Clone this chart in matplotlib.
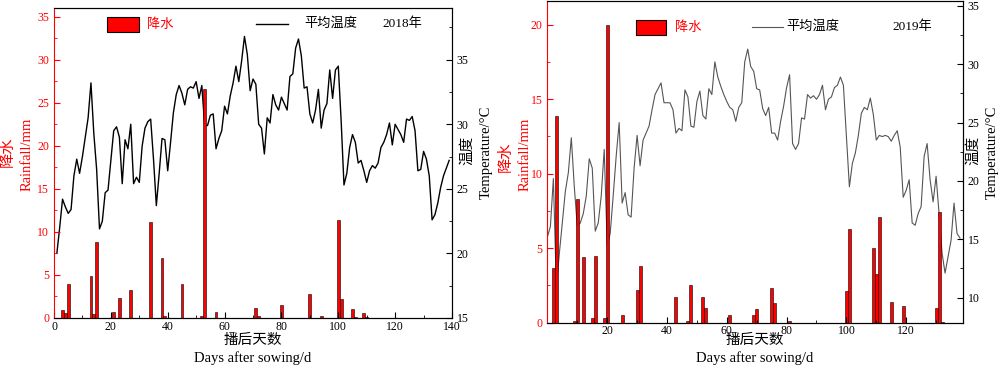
import numpy as np
import matplotlib
matplotlib.use("Agg")
import matplotlib.pyplot as plt
from matplotlib.ticker import MultipleLocator

plt.rcParams['font.family'] = ['Liberation Serif', 'Noto Sans CJK SC']

# 2018 season
days_2018 = list(range(1, 140))
temp_2018 = [20.0, 22.0, 24.2, 23.6, 23.1, 23.4, 26.0, 27.3, 26.2, 27.5,
             29.0, 30.5, 33.2, 29.3, 26.5, 21.9, 22.5, 24.7, 24.9, 27.2,
             29.5, 29.8, 29.0, 25.4, 28.8, 28.1, 30.0, 25.4, 25.9, 25.5,
             28.3, 29.7, 30.2, 30.4, 27.3, 23.7, 26.2, 28.9, 28.8, 26.4,
             28.6, 30.9, 32.3, 33.0, 32.4, 31.5, 32.7, 32.9, 32.8, 33.3,
             32.0, 33.0, 29.9, 29.9, 30.7, 30.8, 28.1, 28.9, 29.5, 31.4,
             30.8, 32.2, 33.2, 34.5, 33.3, 34.9, 36.8, 35.4, 32.6, 33.5,
             33.1, 30.0, 29.7, 27.7, 30.5, 30.1, 32.3, 31.5, 31.1, 32.1,
             31.6, 31.1, 33.7, 33.9, 35.9, 36.6, 35.3, 32.8, 32.9, 30.8,
             30.1, 31.1, 32.7, 29.7, 31.1, 31.6, 34.2, 32.0, 34.2, 34.5,
             30.3, 25.3, 26.2, 28.2, 29.2, 28.6, 27.0, 27.2, 26.4, 25.5,
             26.4, 26.8, 26.6, 27.0, 28.2, 28.6, 29.2, 30.1, 28.4, 30.0,
             29.6, 29.2, 28.6, 30.4, 30.3, 30.6, 29.5, 26.4, 26.5, 27.9,
             27.3, 26.0, 22.6, 23.0, 23.9, 25.1, 26.0, 26.6, 27.2]
rain_days_2018 = [3, 4, 5, 8, 13, 14, 15, 21, 23, 27, 34, 38, 39, 45, 52, 53,
                  57, 68, 71, 72, 76, 77, 80, 90, 94, 100, 101, 104, 105, 106,
                  109, 110]
rain_2018 = [0.9, 0.55, 4.0, 0.05, 4.9, 0.5, 8.8, 0.65, 2.35, 3.2, 11.2, 7.0,
             0.25, 3.95, 0.25, 26.6, 0.65, 0.05, 1.15, 0.2, 0.05, 0.05, 1.55,
             2.8, 0.25, 11.4, 2.2, 0.05, 1.05, 0.1, 0.55, 0.15]

# 2019 season
days_2019 = list(range(0, 139))
temp_2019 = [15.2, 16.1, 20.2, 10.9, 13.8, 16.5, 19.1, 20.7, 23.7, 19.5,
             16.1, 16.4, 17.2, 18.7, 21.9, 21.1, 15.7, 16.4, 18.7, 22.7,
             14.5, 15.5, 18.7, 22.1, 25.0, 18.1, 19.0, 17.1, 16.9, 21.1,
             23.9, 21.3, 23.5, 24.1, 24.7, 26.1, 27.4, 27.9, 28.4, 26.7,
             26.7, 26.7, 26.1, 24.1, 24.5, 24.3, 27.8, 27.2, 24.7, 24.6,
             26.8, 27.7, 25.6, 25.3, 27.9, 27.4, 30.2, 28.9, 28.1, 27.4,
             26.8, 26.3, 26.1, 25.1, 26.3, 26.7, 30.2, 31.3, 29.8, 29.4,
             27.9, 27.8, 26.2, 25.6, 26.3, 24.1, 24.1, 23.5, 25.1, 26.4,
             28.0, 29.1, 23.2, 22.7, 23.2, 25.4, 25.3, 27.4, 27.1, 27.3,
             27.0, 27.4, 28.2, 26.1, 27.0, 27.2, 28.0, 28.2, 28.9, 28.2,
             23.9, 19.5, 21.5, 22.4, 23.9, 25.8, 26.3, 26.1, 27.1, 25.7,
             23.5, 23.9, 23.8, 23.9, 23.8, 23.4, 23.9, 24.3, 22.9, 18.6,
             19.2, 20.1, 16.4, 16.2, 17.2, 17.8, 22.1, 23.2, 20.1, 18.2,
             20.4, 17.2, 13.8, 12.1, 13.5, 14.9, 18.1, 15.5, 15.1]
rain_days_2019 = [2, 3, 9, 10, 12, 15, 16, 19, 20, 25, 30, 31, 43, 47, 48, 52,
                  53, 61, 69, 70, 75, 76, 81, 100, 101, 109, 110, 111, 115,
                  119, 130, 131, 132]
rain_2019 = [3.7, 13.9, 0.13, 8.3, 4.4, 0.3, 4.5, 0.33, 20.0, 0.5, 2.2, 3.8,
             1.7, 0.1, 2.5, 1.7, 1.0, 0.5, 0.5, 0.9, 2.3, 1.3, 0.1, 2.1, 6.3,
             5.0, 3.3, 7.1, 1.4, 1.1, 1.0, 7.4, 0.07]

fig = plt.figure(figsize=(10, 3.67), dpi=100)
H = 367.0


def panel(rect, days, temp, rdays, rain, xlim, xticks, rlim, tlim, tticks,
          line_color, line_w, year, leg):
    ax = fig.add_axes(rect)
    axt = ax.twinx()
    ax.set_zorder(axt.get_zorder() + 1)
    ax.patch.set_visible(False)

    axt.plot(days, temp, color=line_color, lw=line_w)
    ax.bar(rdays, rain, width=1.0, color='red', edgecolor='black', lw=0.4)

    ax.set_xlim(*xlim)
    ax.set_ylim(*rlim)
    axt.set_ylim(*tlim)
    ax.set_xticks(xticks)
    ax.xaxis.set_minor_locator(MultipleLocator(10))
    ax.yaxis.set_major_locator(MultipleLocator(5))
    ax.yaxis.set_minor_locator(MultipleLocator(2.5))
    axt.set_yticks(tticks)
    axt.yaxis.set_minor_locator(MultipleLocator(2.5))

    ax.tick_params(which='both', direction='in', labelsize=8.5, top=False,
                   right=False)
    ax.tick_params(which='major', length=4.5)
    ax.tick_params(which='minor', length=2.2)
    ax.tick_params(axis='x', pad=2)
    ax.tick_params(axis='y', which='both', colors='red', labelcolor='red')
    axt.tick_params(which='both', direction='in', labelsize=8.5)
    axt.tick_params(which='major', length=4.5)
    axt.tick_params(which='minor', length=2.2)
    ax.spines['left'].set_color('red')
    axt.spines['left'].set_visible(False)
    for s in ax.spines.values():
        s.set_linewidth(0.8)
    for s in axt.spines.values():
        s.set_linewidth(0.8)

    # legend-like keys
    (px0, px1, py0, py1, tx, lx0, lx1, ly, mx, yx, yy) = leg
    fig.add_artist(plt.Rectangle((px0 / 1000, 1 - py1 / H),
                                 (px1 - px0) / 1000, (py1 - py0) / H,
                                 transform=fig.transFigure, facecolor='red',
                                 edgecolor='black', lw=0.8))
    fig.text(tx / 1000, 1 - (py0 + py1) / 2 / H, '降水', color='red',
             fontsize=9.5, va='center', ha='left')
    fig.add_artist(plt.Line2D([lx0 / 1000, lx1 / 1000], [1 - ly / H, 1 - ly / H],
                              transform=fig.transFigure, color=line_color,
                              lw=line_w))
    fig.text(mx / 1000, 1 - ly / H, '平均温度', fontsize=9.5, va='center',
             ha='left')
    fig.text(yx / 1000, 1 - yy / H, year, fontsize=9.5, va='center', ha='left')
    return ax, axt


ax1, ax1t = panel([0.054, 1 - 318 / H, 0.398, 310 / H], days_2018, temp_2018,
                  rain_days_2018, rain_2018, (0, 140), range(0, 141, 20),
                  (0, 36), (15, 39), [15, 20, 25, 30, 35], 'black', 1.0,
                  '2018年',
                  (107, 139, 17, 32, 147, 256, 288, 24, 304, 382, 24))
ax2, ax2t = panel([0.5474, 1 - 322.7 / H, 0.4156, 321.6 / H], days_2019,
                  temp_2019, rain_days_2019, rain_2019, (0, 139),
                  range(20, 121, 20), (0, 21.58), (7.85, 35.41),
                  [10, 15, 20, 25, 30, 35], '#555555', 0.8, '2019年',
                  (636, 666, 20, 35, 675, 752, 783, 27, 786, 892, 27))

# axis titles
for xc, yc, rx, tx0, tx1 in [(8, 152, 27, 467, 486), (506, 157, 525, 973, 992)]:
    fig.text(xc / 1000, 1 - yc / H, '降水', color='red', fontsize=11,
             rotation=90, ha='center', va='center')
    fig.text(rx / 1000, 1 - 154 / H, 'Rainfall/mm', color='red', fontsize=10.5,
             rotation=90, ha='center', va='center')
    fig.text(tx0 / 1000, 1 - 150 / H, '温度', fontsize=10.5, rotation=90,
             ha='center', va='center')
    fig.text(tx1 / 1000, 1 - 152 / H, 'Temperature/°C', fontsize=10.5,
             rotation=90, ha='center', va='center')

for xc in (253, 755):
    fig.text(xc / 1000, 1 - 340 / H, '播后天数', fontsize=10.5, ha='center',
             va='center')
    fig.text(xc / 1000, 1 - 358 / H, 'Days after sowing/d', fontsize=10.5,
             ha='center', va='center')

fig.savefig('out.png', dpi=100)
